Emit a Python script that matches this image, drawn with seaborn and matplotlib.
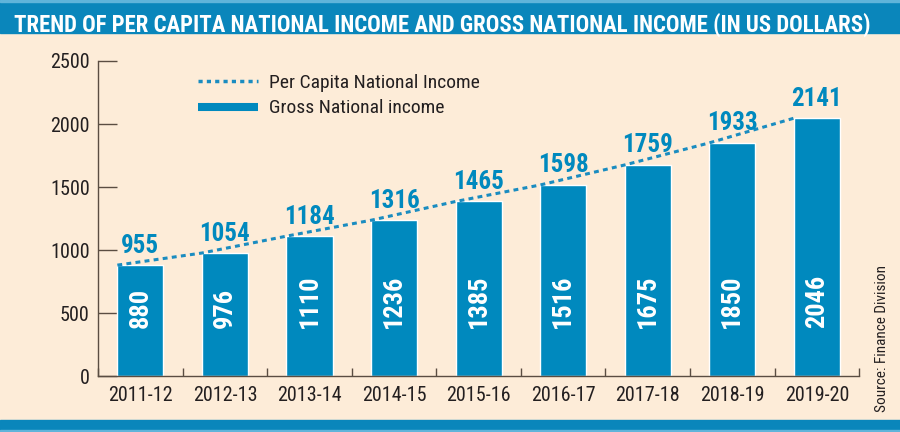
import numpy as np
import pandas as pd
import seaborn as sns
import matplotlib.pyplot as plt
from matplotlib import font_manager as fm
from matplotlib.lines import Line2D
from matplotlib.patches import Rectangle
from matplotlib.ticker import FixedLocator

# ---------------------------------
# Data
# ---------------------------------
years = ['2011-12', '2012-13', '2013-14', '2014-15', '2015-16',
         '2016-17', '2017-18', '2018-19', '2019-20']
gross_income = [880, 976, 1110, 1236, 1385, 1516, 1675, 1850, 2046]
per_capita = [955, 1054, 1184, 1316, 1465, 1598, 1759, 1933, 2141]
y_ticks = [0, 500, 1000, 1500, 2000, 2500]

title = 'TREND OF PER CAPITA NATIONAL INCOME AND GROSS NATIONAL INCOME (IN US DOLLARS)'
source = 'Source: Finance Division'

# ---------------------------------
# Style
# ---------------------------------
cream = '#fdecd8'
blue = '#0089be'
band = '#0a86bb'
band_light = '#5fb4da'
ink = '#231f20'
axis_col = '#5a4d42'


def pick_font(*names):
    for n in names:
        try:
            fm.findfont(fm.FontProperties(family=n), fallback_to_default=False)
            return n
        except ValueError:
            pass
    return 'DejaVu Sans'


narrow = pick_font('Liberation Sans Narrow', 'Roboto Condensed',
                   'Open Sans Condensed', 'Liberation Sans')

sns.set_theme(style='white')
plt.rcParams['font.family'] = [narrow, 'DejaVu Sans']

df = pd.DataFrame({'year': years, 'gross': gross_income, 'per_capita': per_capita})

# ---------------------------------
# Figure
# ---------------------------------
fig = plt.figure(figsize=(9, 4.32), dpi=100, facecolor=cream)
ax = fig.add_axes([0.109, 0.1296, 0.8456, 0.7292])
ax.set_facecolor('none')

bar_w = 0.545
sns.barplot(data=df, x='year', y='gross', color=blue, saturation=1,
            width=bar_w, ax=ax, zorder=2)

# Dotted trend line along the bar tops
ax.plot(np.arange(len(years)) - bar_w / 2, df.gross, color='#1a8cc0',
        lw=2.2, dashes=(1.6, 1.4), zorder=3)

# Labels
for i, (g, p) in enumerate(zip(df.gross, df.per_capita)):
    ax.text(i, 380, str(g), rotation=90, ha='center', va='bottom',
            color='white', fontsize=19, fontweight='bold', zorder=4)
    ax.annotate(str(p), (i, g), xytext=(0, 9), textcoords='offset points',
                ha='center', va='baseline', color=blue, fontsize=18,
                fontweight='bold', zorder=4)

# Axes config
ax.set(xlim=(-0.5, len(years) - 0.5), ylim=(0, 2500), xlabel='', ylabel='')
ax.set_yticks(y_ticks)
sns.despine(ax=ax)
for s in ['left', 'bottom']:
    ax.spines[s].set_color(axis_col)
    ax.spines[s].set_linewidth(1)
ax.tick_params(axis='y', direction='in', length=14, width=1, color=axis_col,
               pad=6, labelsize=14.5, labelcolor=ink, left=True)
ax.tick_params(axis='x', which='major', length=0, pad=7, labelsize=14.5,
               labelcolor=ink)
ax.xaxis.set_minor_locator(FixedLocator(np.arange(-0.5, len(years), 1)))
ax.tick_params(axis='x', which='minor', direction='in', length=6, width=1,
               color=axis_col, bottom=True)

# Legend
handles = [Line2D([], [], color='#1a8cc0', lw=2.5, dashes=(1.2, 1.2)),
           Line2D([], [], color=blue, lw=5.8, solid_capstyle='butt')]
ax.legend(handles, ['Per Capita National Income', 'Gross National income'],
          loc='upper left', bbox_to_anchor=(0.131, 0.96), frameon=False,
          fontsize=14, handlelength=3.1, handletextpad=0.55,
          labelspacing=0.4, borderaxespad=0, borderpad=0,
          labelcolor=ink)

# Header and footer bands
fig.add_artist(Rectangle((0, 1 - 33 / 432), 1, 33 / 432,
                         transform=fig.transFigure, color=band, zorder=0))
fig.add_artist(Rectangle((0, 1 - 2 / 432), 1, 2 / 432,
                         transform=fig.transFigure, color=band_light, zorder=0))
fig.add_artist(Rectangle((0, 0), 1, 12 / 432,
                         transform=fig.transFigure, color=band, zorder=0))
fig.add_artist(Rectangle((0, 0), 1, 2 / 432,
                         transform=fig.transFigure, color=band_light, zorder=0))

t = fig.text(14 / 900, 1 - 32 / 432, title, color='white', fontsize=18,
             fontweight='bold', ha='left', va='baseline')
fig.canvas.draw()
w = t.get_window_extent().width
t.set_fontsize(18 * 858 / w)

fig.text(882 / 900, 20 / 432, source, rotation=90, ha='center', va='bottom',
         fontsize=11, color=ink)

fig.savefig('out.png', dpi=100, facecolor=cream)
